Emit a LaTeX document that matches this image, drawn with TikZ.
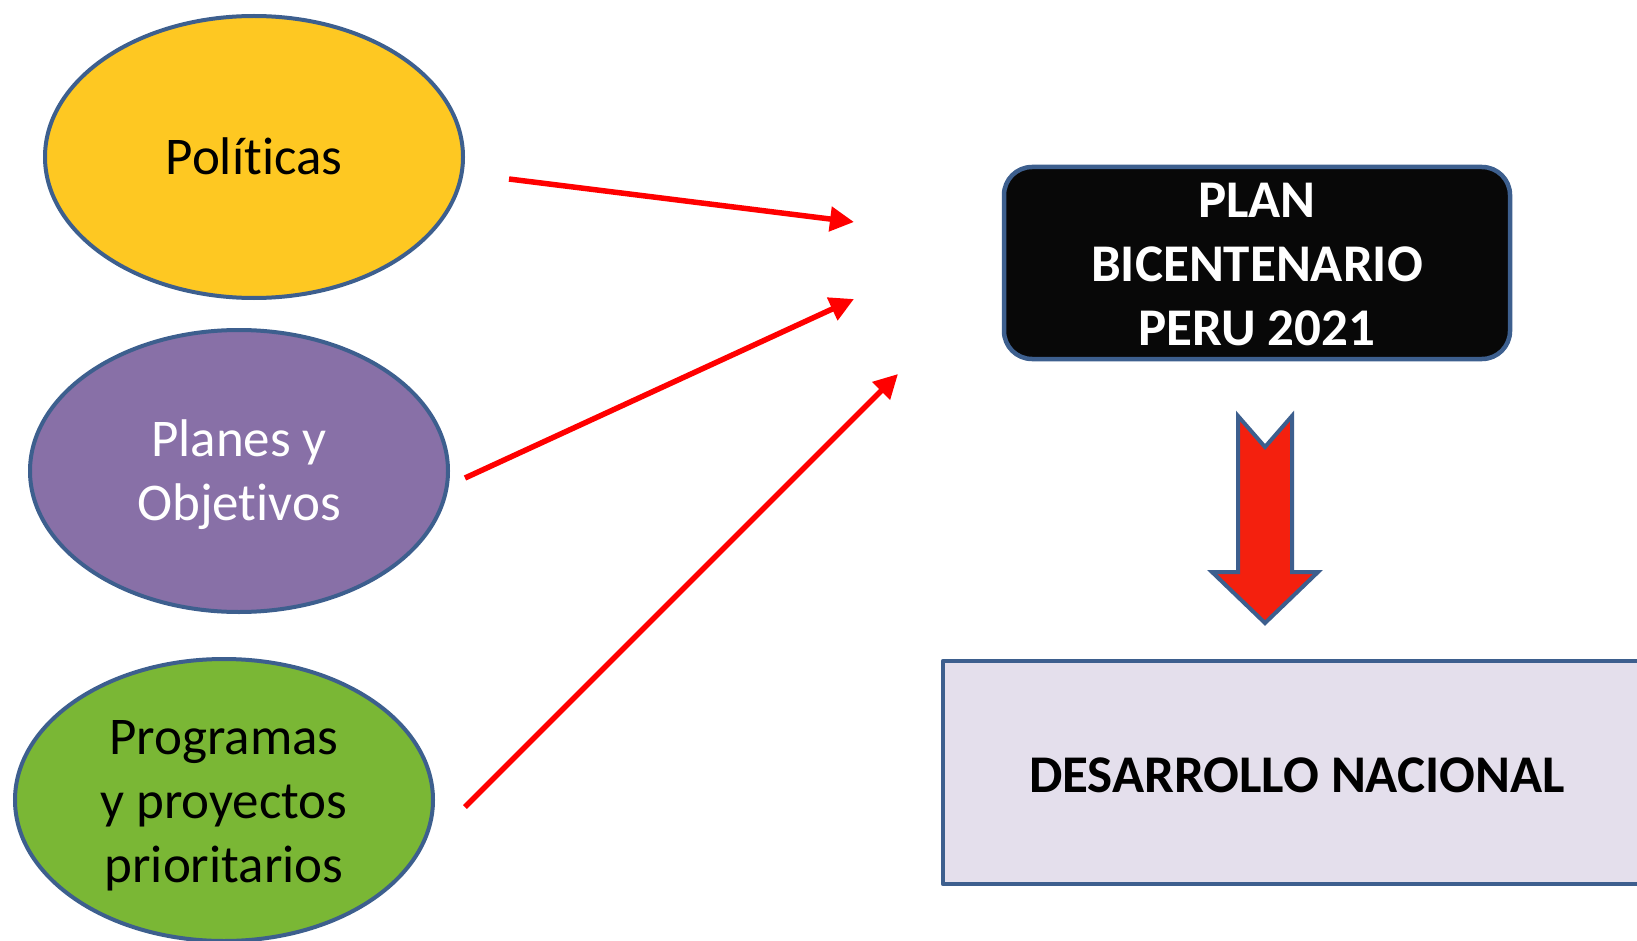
\documentclass[tikz,border=0pt]{standalone}
\usepackage{fontspec}
\setmainfont{Carlito}[Ligatures=NoCommon]
\usetikzlibrary{shapes.geometric,arrows.meta}
\definecolor{bord}{HTML}{3D5F8E}
\definecolor{gold}{HTML}{FEC822}
\definecolor{purp}{HTML}{8870A7}
\definecolor{grn}{HTML}{7AB735}
\definecolor{lav}{HTML}{E4DFEC}
\definecolor{dred}{HTML}{F4200E}
\tikzset{
  oval/.style={ellipse, draw=bord, line width=4pt, minimum width=418pt, minimum height=282pt, align=center, inner sep=0pt, font=\fontsize{53}{64}\selectfont},
  redarrow/.style={draw=red, line width=5.5pt, -{Triangle[length=24pt,width=24pt]}},
}
\begin{document}
\begin{tikzpicture}[x=1pt,y=-1pt]
\useasboundingbox[fill=white] (0,0) rectangle (1637,941);
\node[oval, fill=gold] (pol) at (254,157) {};
\node (polt) at (254,156) {\fontsize{53}{64}\selectfont Políticas};
\node[oval, fill=purp] (pla) at (239,471) {};
\node[text=white, align=center, font=\fontsize{53}{64}\selectfont] (plat) at (239,475) {Planes y\\Objetivos};
\node[oval, fill=grn] (pro) at (224,800) {};
\node[align=center, font=\fontsize{53}{64}\selectfont] (prot) at (224,806) {Programas\\y proyectos\\prioritarios};
\node[draw=bord, line width=4.5pt, fill=black!97, rounded corners=28pt, minimum width=506pt, minimum height=192pt, inner sep=0pt] (plan) at (1257,263) {};
\node[text=white, align=center, font=\bfseries\fontsize{53}{64}\selectfont] (plant) at (1257,265) {PLAN\\BICENTENARIO\\PERU 2021};
\draw[bord, line width=4.5pt, fill=lav, line join=round] (1680,661) -- (943,661) -- (943,884) -- (1680,884);
\node[font=\bfseries\fontsize{53}{60}\selectfont] (des) at (1297,775) {DESARROLLO NACIONAL};
\draw[bord, line width=4pt, fill=dred, line join=miter] (1238,416) -- (1265,447) -- (1292,416) -- (1292,572) -- (1318,572) -- (1265,623) -- (1212,572) -- (1238,572) -- cycle;
\coordinate (s1) at (509,179);
\coordinate (e1) at (854,222);
\coordinate (s2) at (465,478);
\coordinate (e2) at (854,299);
\coordinate (s3) at (465,807);
\coordinate (e3) at (898,374);
\draw[redarrow] (s1) -- (e1);
\draw[redarrow] (s2) -- (e2);
\draw[redarrow] (s3) -- (e3);
\end{tikzpicture}
\end{document}
